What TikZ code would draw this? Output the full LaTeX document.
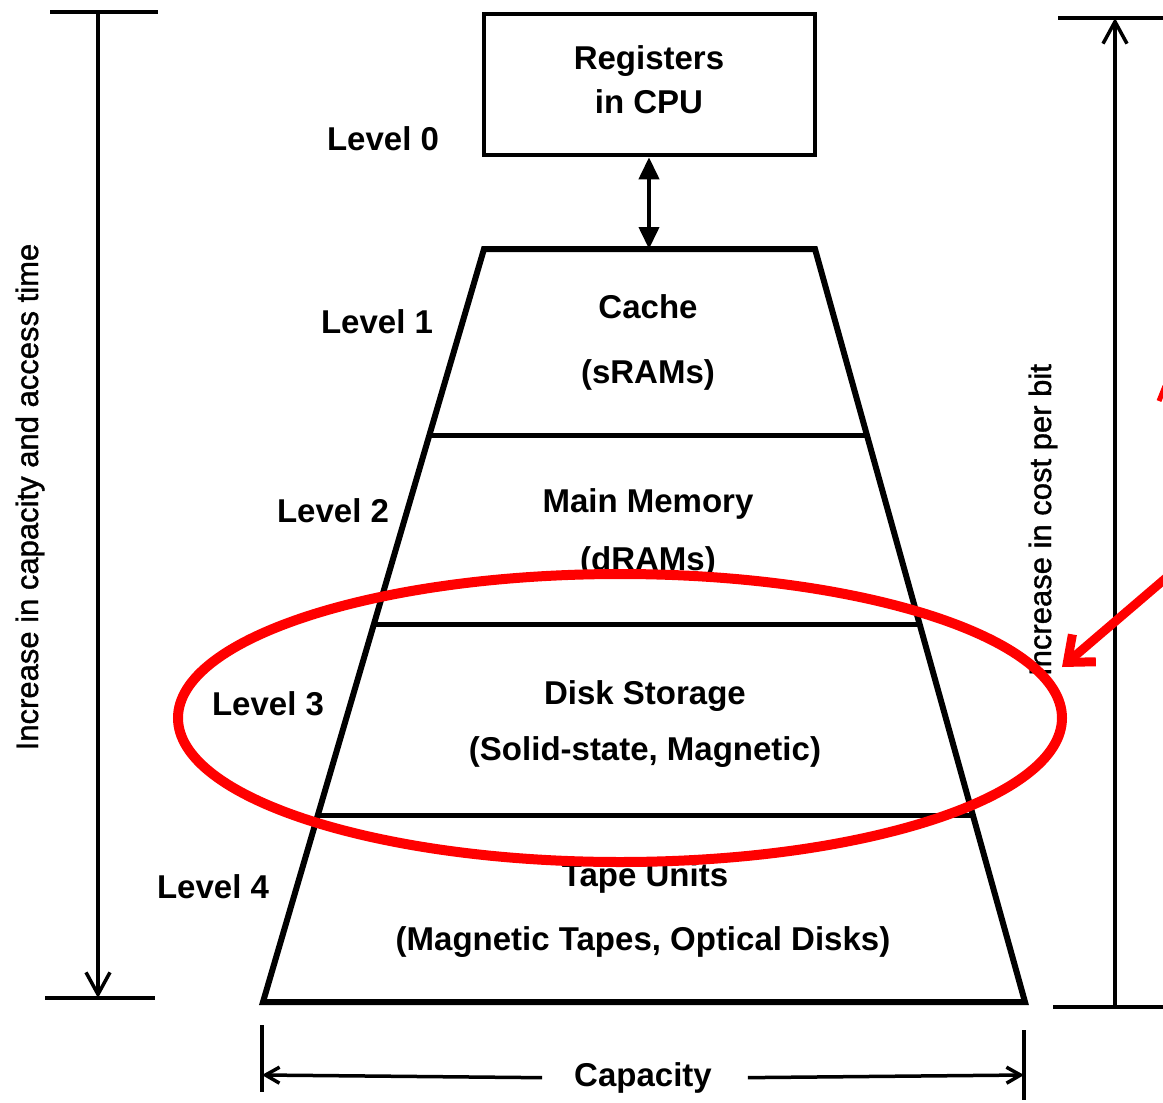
\documentclass[tikz,border=0pt]{standalone}
\usepackage{fontspec}
\setmainfont{Liberation Sans}
\newfontfamily\scalefont[FakeBold=1.2]{Liberation Sans}
\usetikzlibrary{arrows.meta,calc}
\begin{document}
\begin{tikzpicture}[x=1pt,y=-1pt,
  lbl/.style={font=\fontsize{33}{36}\selectfont\bfseries, inner sep=0pt, text height=24pt, text depth=7pt},
  side/.style={font=\scalefont\fontsize{31}{34}\selectfont, inner sep=0pt, rotate=90},
  frame/.style={line width=6pt, line join=miter, line cap=round},
  shelf/.style={line width=5pt},
  dim/.style={line width=3.5pt},
  barb/.style={-{Straight Barb[length=22pt,width=24pt,line width=3.5pt]}},
  smallbarb/.style={-{Straight Barb[length=14pt,width=16pt,line width=3.5pt]}},
  highlight/.style={draw=red, line width=10pt}]
\useasboundingbox[fill=white] (0,0) rectangle (1163,1103);

% CPU registers
\node[draw, line width=4.5pt, minimum width=331pt, minimum height=141pt, inner sep=0pt] (reg) at (649.5,84.5) {};
\node[lbl] (regA) at (649,61) {Registers};
\node[lbl] (regB) at (649,105) {in CPU};

% the memory pyramid
\coordinate (tl) at (484,249);
\coordinate (tr) at (815,249);
\coordinate (bl) at (263,1002);
\coordinate (br) at (1025,1002);
\coordinate (top) at (649,249);
\draw[frame] (tl) -- (tr) -- (br) -- (bl) -- cycle;
\draw[shelf] ($(tl)!0.2483!(bl)$) -- ($(tr)!0.2483!(br)$);
\draw[shelf] ($(tl)!0.4993!(bl)$) -- ($(tr)!0.4993!(br)$);
\draw[shelf] ($(tl)!0.7517!(bl)$) -- ($(tr)!0.7517!(br)$);

\draw[line width=4pt, {Triangle[length=22pt,width=20pt]}-{Triangle[length=22pt,width=20pt]}] (reg.south -| top) -- (top);

% level contents
\node[lbl] (c1) at (648,310) {Cache};
\node[lbl] (c2) at (648,375) {(sRAMs)};
\node[lbl] (m1) at (648,504) {Main Memory};
\node[lbl] (m2) at (648,562) {(dRAMs)};
\node[lbl] (d1) at (645,696) {Disk Storage};
\node[lbl] (d2) at (645,752) {(Solid-state, Magnetic)};
\node[lbl] (t1) at (645,878) {Tape Units};
\node[lbl] (t2) at (643,942) {(Magnetic Tapes, Optical Disks)};

% level names
\node[lbl] (L0) at (383,142) {Level 0};
\node[lbl] (L1) at (377,325) {Level 1};
\node[lbl] (L2) at (333,514) {Level 2};
\node[lbl] (L3) at (268,707) {Level 3};
\node[lbl] (L4) at (213,890) {Level 4};

% capacity / access time scale
\coordinate (lt) at (98,12);
\coordinate (lb) at (98,998);
\draw[dim] (lt) ++(-48,0) -- ++(108,0);
\draw[dim] (lb) ++(-53,0) -- ++(110,0);
\draw[dim, barb] (lt) -- (lb);
\node[side] (ltxt) at (30,497) {Increase in capacity and access time};

% cost per bit scale
\coordinate (rt) at (1115,18);
\coordinate (rb) at (1115,1007);
\draw[dim] (rt) ++(-57,0) -- ++(110,0);
\draw[dim] (rb) ++(-62,0) -- ++(115,0);
\draw[dim, barb] (rb) -- (rt);
\node[side] (rtxt) at (1043,520) {Increase in cost per bit};

% capacity width
\coordinate (cl) at (262,1075);
\coordinate (cr) at (1024,1075);
\draw[dim] (262,1025) -- (262,1092);
\draw[dim] (1024,1030) -- (1024,1100);
\node[lbl] (cap) at (643,1078) {Capacity};
\draw[dim, smallbarb, shorten <=32pt] (cap.west) -- (cl);
\draw[dim, smallbarb, shorten <=36pt] (cap.east) -- (cr);

% highlight of level 3
\draw[highlight] (620,718) ellipse [x radius=442, y radius=144];
\coordinate (pin) at (1062,667);
\coordinate (pinfrom) at (1166,578);
\draw[draw=red, line width=9pt, -{Straight Barb[length=22pt,width=36pt,line width=9pt]}] (pinfrom) -- (pin);
\draw[draw=red, line width=5pt] (1159,401) -- (1165,386);
\end{tikzpicture}
\end{document}
